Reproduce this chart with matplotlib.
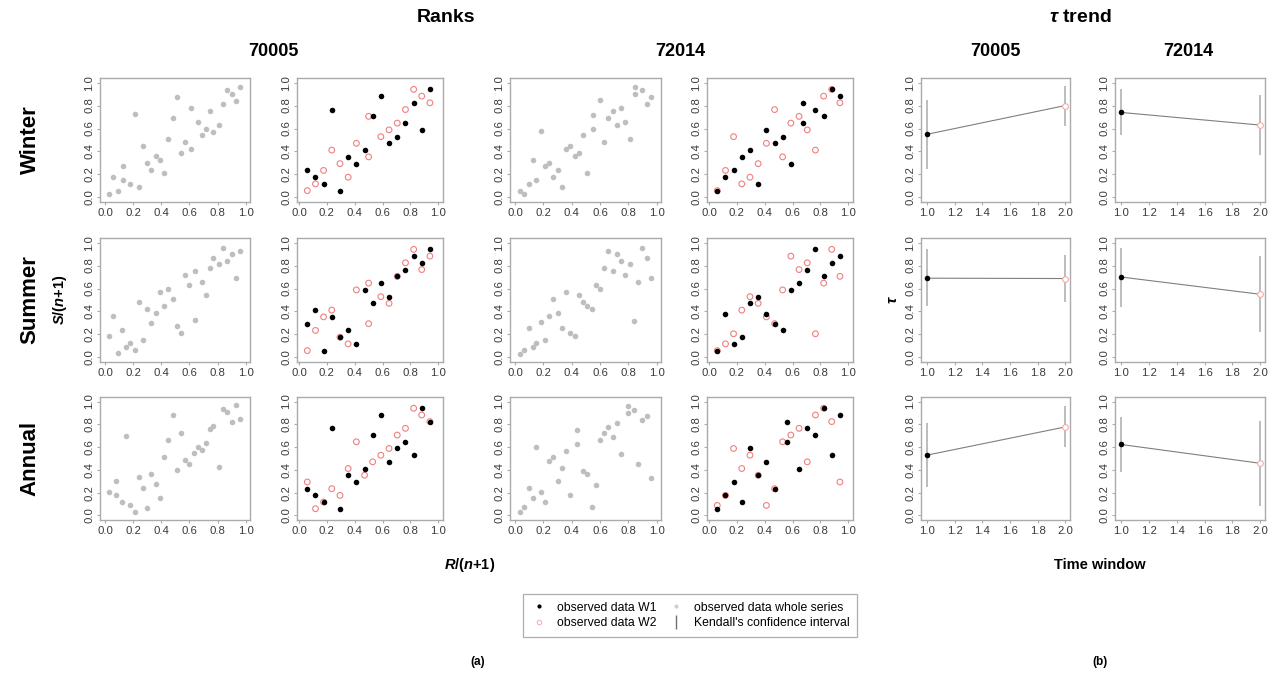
import matplotlib
matplotlib.use('Agg')
import matplotlib.pyplot as plt
from matplotlib.lines import Line2D

plt.rcParams['font.family'] = ['Liberation Sans', 'DejaVu Sans']
plt.rcParams['mathtext.fontset'] = 'custom'
plt.rcParams['mathtext.it'] = 'Liberation Sans:italic:bold'
plt.rcParams['mathtext.rm'] = 'Liberation Sans:bold'
plt.rcParams['mathtext.bf'] = 'Liberation Sans:bold'

# ---- whole series ranks (R/(n+1), S/(n+1)) ----
win_70005_all_x = [0.03, 0.06, 0.09, 0.13, 0.13, 0.18, 0.21, 0.24, 0.27, 0.30, 0.33, 0.36, 0.39, 0.42, 0.45, 0.48,
                   0.51, 0.54, 0.57, 0.61, 0.61, 0.66, 0.69, 0.72, 0.75, 0.77, 0.81, 0.84, 0.865, 0.90, 0.93, 0.96]
win_70005_all_y = [0.026, 0.18, 0.055, 0.27, 0.15, 0.12, 0.73, 0.09, 0.45, 0.30, 0.24, 0.36, 0.33, 0.21, 0.51, 0.69,
                   0.875, 0.39, 0.48, 0.78, 0.42, 0.66, 0.54, 0.60, 0.75, 0.57, 0.63, 0.81, 0.935, 0.90, 0.84, 0.965]
win_72014_all_x = [0.033, 0.064, 0.095, 0.123, 0.15, 0.18, 0.21, 0.24, 0.27, 0.30, 0.33, 0.36, 0.39, 0.42, 0.45, 0.48,
                   0.51, 0.553, 0.553, 0.60, 0.63, 0.66, 0.69, 0.72, 0.75, 0.78, 0.81, 0.85, 0.85, 0.90, 0.93, 0.957]
win_72014_all_y = [0.058, 0.026, 0.117, 0.33, 0.15, 0.575, 0.27, 0.30, 0.18, 0.24, 0.09, 0.42, 0.45, 0.36, 0.39, 0.54,
                   0.21, 0.72, 0.60, 0.845, 0.48, 0.69, 0.75, 0.63, 0.78, 0.66, 0.51, 0.90, 0.965, 0.935, 0.81, 0.875]
sum_70005_all_x = [0.03, 0.06, 0.09, 0.12, 0.15, 0.18, 0.21, 0.24, 0.27, 0.30, 0.33, 0.36, 0.39, 0.42, 0.45, 0.48,
                   0.51, 0.54, 0.57, 0.60, 0.64, 0.64, 0.69, 0.72, 0.75, 0.77, 0.81, 0.84, 0.865, 0.90, 0.93, 0.96]
sum_70005_all_y = [0.186, 0.363, 0.037, 0.243, 0.094, 0.123, 0.066, 0.48, 0.154, 0.42, 0.30, 0.39, 0.57, 0.45, 0.60, 0.51,
                   0.27, 0.21, 0.72, 0.63, 0.75, 0.33, 0.66, 0.54, 0.78, 0.87, 0.81, 0.955, 0.84, 0.90, 0.69, 0.925]
sum_72014_all_x = [0.033, 0.064, 0.095, 0.123, 0.15, 0.18, 0.21, 0.24, 0.27, 0.30, 0.33, 0.36, 0.39, 0.42, 0.45, 0.48,
                   0.51, 0.54, 0.57, 0.60, 0.63, 0.66, 0.69, 0.72, 0.75, 0.78, 0.81, 0.837, 0.87, 0.90, 0.93, 0.957]
sum_72014_all_y = [0.034, 0.063, 0.256, 0.092, 0.124, 0.31, 0.152, 0.36, 0.51, 0.39, 0.256, 0.57, 0.21, 0.184, 0.54, 0.48,
                   0.45, 0.42, 0.63, 0.60, 0.78, 0.93, 0.75, 0.90, 0.84, 0.72, 0.81, 0.316, 0.66, 0.957, 0.87, 0.69]
ann_70005_all_x = [0.03, 0.076, 0.076, 0.12, 0.15, 0.18, 0.21, 0.24, 0.27, 0.30, 0.33, 0.36, 0.39, 0.42, 0.45, 0.48,
                   0.51, 0.54, 0.57, 0.60, 0.63, 0.66, 0.69, 0.72, 0.75, 0.77, 0.81, 0.84, 0.865, 0.90, 0.93, 0.96]
ann_70005_all_y = [0.21, 0.30, 0.18, 0.12, 0.70, 0.093, 0.032, 0.334, 0.244, 0.061, 0.363, 0.273, 0.154, 0.517, 0.666,
                   0.878, 0.395, 0.727, 0.485, 0.453, 0.546, 0.605, 0.576, 0.637, 0.756, 0.788, 0.424, 0.939, 0.91,
                   0.817, 0.968, 0.849]
ann_72014_all_x = [0.033, 0.064, 0.095, 0.123, 0.15, 0.18, 0.21, 0.24, 0.27, 0.30, 0.33, 0.36, 0.39, 0.437, 0.437, 0.48,
                   0.51, 0.54, 0.57, 0.60, 0.63, 0.66, 0.69, 0.72, 0.75, 0.795, 0.795, 0.837, 0.87, 0.90, 0.93, 0.957]
ann_72014_all_y = [0.03, 0.07, 0.24, 0.15, 0.60, 0.21, 0.12, 0.48, 0.51, 0.30, 0.42, 0.57, 0.18, 0.63, 0.75, 0.39,
                   0.36, 0.07, 0.27, 0.66, 0.72, 0.78, 0.69, 0.81, 0.54, 0.90, 0.96, 0.93, 0.45, 0.84, 0.875, 0.33]

# ---- window ranks W1 / W2 ----
rank_x = [0.059, 0.118, 0.176, 0.235, 0.294, 0.353, 0.412, 0.471, 0.529, 0.588, 0.647, 0.706, 0.765, 0.824, 0.882, 0.941]
rank_x_tie9 = [0.059, 0.118, 0.176, 0.235, 0.294, 0.353, 0.412, 0.50, 0.50, 0.588, 0.647, 0.706, 0.765, 0.824, 0.882, 0.941]
rank_x_tie11 = [0.059, 0.118, 0.176, 0.235, 0.294, 0.353, 0.412, 0.471, 0.529, 0.588, 0.676, 0.676, 0.765, 0.824, 0.882, 0.941]
rank_x_tie10 = [0.059, 0.118, 0.176, 0.235, 0.294, 0.353, 0.412, 0.471, 0.559, 0.559, 0.647, 0.706, 0.765, 0.824, 0.882, 0.941]

win_70005_w1_y = [0.235, 0.176, 0.118, 0.765, 0.059, 0.353, 0.294, 0.412, 0.706, 0.882, 0.471, 0.529, 0.647, 0.824, 0.588, 0.941]
win_70005_w2_y = [0.059, 0.118, 0.235, 0.412, 0.294, 0.176, 0.471, 0.353, 0.706, 0.529, 0.588, 0.647, 0.765, 0.941, 0.882, 0.824]
win_72014_w1_y = [0.059, 0.176, 0.235, 0.353, 0.412, 0.118, 0.588, 0.471, 0.529, 0.294, 0.647, 0.824, 0.765, 0.706, 0.941, 0.882]
win_72014_w2_y = [0.059, 0.235, 0.529, 0.118, 0.176, 0.294, 0.471, 0.765, 0.353, 0.647, 0.706, 0.588, 0.412, 0.882, 0.941, 0.824]
sum_70005_w1_y = [0.294, 0.412, 0.059, 0.353, 0.176, 0.235, 0.118, 0.588, 0.471, 0.647, 0.529, 0.706, 0.765, 0.882, 0.824, 0.941]
sum_70005_w2_y = [0.059, 0.235, 0.353, 0.412, 0.176, 0.118, 0.588, 0.647, 0.294, 0.529, 0.471, 0.706, 0.824, 0.941, 0.765, 0.882]
sum_72014_w1_y = [0.059, 0.382, 0.118, 0.176, 0.471, 0.529, 0.382, 0.294, 0.235, 0.588, 0.647, 0.765, 0.941, 0.706, 0.824, 0.882]
sum_72014_w2_y = [0.059, 0.118, 0.206, 0.412, 0.529, 0.471, 0.353, 0.294, 0.588, 0.882, 0.765, 0.824, 0.206, 0.647, 0.941, 0.706]
ann_70005_w1_y = [0.235, 0.176, 0.118, 0.765, 0.059, 0.353, 0.294, 0.412, 0.706, 0.882, 0.471, 0.588, 0.647, 0.529, 0.941, 0.824]
ann_70005_w2_y = [0.294, 0.059, 0.118, 0.235, 0.176, 0.412, 0.647, 0.353, 0.471, 0.529, 0.588, 0.706, 0.765, 0.941, 0.882, 0.824]
ann_72014_w1_y = [0.059, 0.176, 0.294, 0.118, 0.588, 0.353, 0.471, 0.235, 0.647, 0.824, 0.412, 0.765, 0.706, 0.941, 0.529, 0.882]
ann_72014_w2_y = [0.088, 0.176, 0.588, 0.412, 0.529, 0.353, 0.088, 0.235, 0.647, 0.706, 0.765, 0.471, 0.882, 0.941, 0.824, 0.294]

# ---- Kendall's tau per window (rows: Winter, Summer, Annual) ----
tau_70005_w1 = [0.55, 0.69, 0.53]
tau_70005_w1_lo = [0.25, 0.45, 0.246]
tau_70005_w1_hi = [0.85, 0.94, 0.81]
tau_70005_w2 = [0.80, 0.687, 0.777]
tau_70005_w2_lo = [0.62, 0.48, 0.597]
tau_70005_w2_hi = [0.97, 0.89, 0.957]
tau_72014_w1 = [0.74, 0.70, 0.623]
tau_72014_w1_lo = [0.54, 0.443, 0.383]
tau_72014_w1_hi = [0.94, 0.957, 0.864]
tau_72014_w2 = [0.63, 0.55, 0.458]
tau_72014_w2_lo = [0.37, 0.217, 0.087]
tau_72014_w2_hi = [0.89, 0.887, 0.83]

seasons = ['Winter', 'Summer', 'Annual']
stations = ['70005', '72014']
windows = [1, 2]

GREY = '#BEBEBE'
PINK = '#F08080'
PINK_LIGHT = '#F2AAAA'
FRAME = '#ABABAB'
TICKTXT = '#3A3A3A'

W, H = 1284, 679
fig = plt.figure(figsize=(W / 100, H / 100), dpi=100)


def box(left, top, right, bottom):
    return fig.add_axes([left / W, 1 - bottom / H, (right - left) / W, (bottom - top) / H])


def ftext(x, y, s, **kw):
    fig.text(x / W, 1 - y / H, s, ha='center', va='center', **kw)


def style(ax):
    for sp in ax.spines.values():
        sp.set_color(FRAME)
        sp.set_linewidth(1.0)
    ax.tick_params(length=2.5, width=0.8, color=FRAME, labelsize=8.2, labelcolor=TICKTXT, pad=1.5)
    ax.tick_params(axis='y', labelrotation=90)
    ax.set_ylim(-0.04, 1.04)
    ax.set_yticks([0, 0.2, 0.4, 0.6, 0.8, 1.0])
    ax.set_yticklabels(['0.0', '0.2', '0.4', '0.6', '0.8', '1.0'], va='center')


col_left = [100, 297, 510, 707, 921, 1115]
col_right = [250, 443, 661, 853, 1070, 1265]
row_top = [78, 238, 397]
row_bot = [202, 362, 520]

all_x = [[win_70005_all_x, win_72014_all_x], [sum_70005_all_x, sum_72014_all_x], [ann_70005_all_x, ann_72014_all_x]]
all_y = [[win_70005_all_y, win_72014_all_y], [sum_70005_all_y, sum_72014_all_y], [ann_70005_all_y, ann_72014_all_y]]
w1_x = [[rank_x, rank_x_tie11], [rank_x, rank_x], [rank_x, rank_x_tie10]]
w1_y = [[win_70005_w1_y, win_72014_w1_y], [sum_70005_w1_y, sum_72014_w1_y], [ann_70005_w1_y, ann_72014_w1_y]]
w2_x = [[rank_x_tie9, rank_x], [rank_x_tie9, rank_x], [rank_x, rank_x]]
w2_y = [[win_70005_w2_y, win_72014_w2_y], [sum_70005_w2_y, sum_72014_w2_y], [ann_70005_w2_y, ann_72014_w2_y]]
taus = [(tau_70005_w1, tau_70005_w1_lo, tau_70005_w1_hi, tau_70005_w2, tau_70005_w2_lo, tau_70005_w2_hi),
        (tau_72014_w1, tau_72014_w1_lo, tau_72014_w1_hi, tau_72014_w2, tau_72014_w2_lo, tau_72014_w2_hi)]

xt = [0, 0.2, 0.4, 0.6, 0.8, 1.0]
xtl = ['0.0', '0.2', '0.4', '0.6', '0.8', '1.0']

for r in range(3):
    for s in range(2):
        # whole series
        ax = box(col_left[2 * s], row_top[r], col_right[2 * s], row_bot[r])
        style(ax)
        ax.scatter(all_x[r][s], all_y[r][s], s=16, color=GREY, linewidths=0)
        ax.set_xlim(-0.036, 1.031)
        ax.set_xticks(xt)
        ax.set_xticklabels(xtl)

        # two windows
        ax = box(col_left[2 * s + 1], row_top[r], col_right[2 * s + 1], row_bot[r])
        style(ax)
        ax.scatter(w2_x[r][s], w2_y[r][s], s=17, facecolors='none', edgecolors=PINK, linewidths=0.8, zorder=2)
        ax.scatter(w1_x[r][s], w1_y[r][s], s=16, color='black', linewidths=0, zorder=3)
        ax.set_xlim(-0.015, 1.035)
        ax.set_xticks(xt)
        ax.set_xticklabels(xtl)

        # tau trend
        t1, lo1, hi1, t2, lo2, hi2 = taus[s]
        ax = box(col_left[4 + s], row_top[r], col_right[4 + s], row_bot[r])
        style(ax)
        ax.vlines(windows, [lo1[r], lo2[r]], [hi1[r], hi2[r]], color='#BDBDBD', lw=1.4, zorder=1)
        ax.plot(windows, [t1[r], t2[r]], color='#7F7F7F', lw=0.8, zorder=2)
        ax.scatter([windows[0]], [t1[r]], s=16, color='black', linewidths=0, zorder=3)
        ax.scatter([windows[1]], [t2[r]], s=17, facecolors='white', edgecolors=PINK_LIGHT, linewidths=0.8, zorder=3)
        ax.set_xlim(0.955, 2.035)
        ax.set_xticks([1.0, 1.2, 1.4, 1.6, 1.8, 2.0])
        ax.set_xticklabels(['1.0', '1.2', '1.4', '1.6', '1.8', '2.0'])

# headers
ftext(446, 18, 'Ranks', fontsize=14, fontweight='bold')
ftext(1080, 18, r'$\tau$ trend', fontsize=14, fontweight='bold')
ftext(273, 52, '70005', fontsize=13, fontweight='bold')
ftext(680, 52, '72014', fontsize=13, fontweight='bold')
ftext(995, 52, '70005', fontsize=13, fontweight='bold')
ftext(1188, 52, '72014', fontsize=13, fontweight='bold')

for r, name in enumerate(seasons):
    ftext(30, (row_top[r] + row_bot[r]) / 2, name, fontsize=16, fontweight='bold', rotation=90)

ftext(60, 300, r'$S$/($n$+1)', fontsize=10.5, fontweight='bold', rotation=90)
ftext(470, 565, r'$R$/($n$+1)', fontsize=10.5, fontweight='bold')
ftext(893, 300, r'$\tau$', fontsize=11, fontweight='bold', rotation=90)
ftext(1100, 565, 'Time window', fontsize=10.5, fontweight='bold')
ftext(478, 662, '(a)', fontsize=8.5, fontweight='bold')
ftext(1100, 662, '(b)', fontsize=8.5, fontweight='bold')

handles = [
    Line2D([], [], ls='none', marker='o', ms=3, color='black', mec='none'),
    Line2D([], [], ls='none', marker='o', ms=3.2, mfc='none', mec=PINK_LIGHT, mew=0.7),
    Line2D([], [], ls='none', marker='o', ms=3, color='#CFCFCF', mec='none'),
    Line2D([], [], ls='none', marker='|', ms=10, color='#707070', mew=1.0),
]
labels = ['observed data W1', 'observed data W2', 'observed data whole series', "Kendall's confidence interval"]
leg = fig.legend(handles, labels, ncol=2, loc='center', bbox_to_anchor=(690 / W, 1 - 615.5 / H),
                 fontsize=8.8, frameon=True, fancybox=False, edgecolor='#9A9A9A', handlelength=1.4,
                 handletextpad=0.8, columnspacing=0.9, borderpad=0.6, labelspacing=0.3)
leg.get_frame().set_linewidth(0.9)

fig.savefig('out.png', dpi=100, facecolor='white')
